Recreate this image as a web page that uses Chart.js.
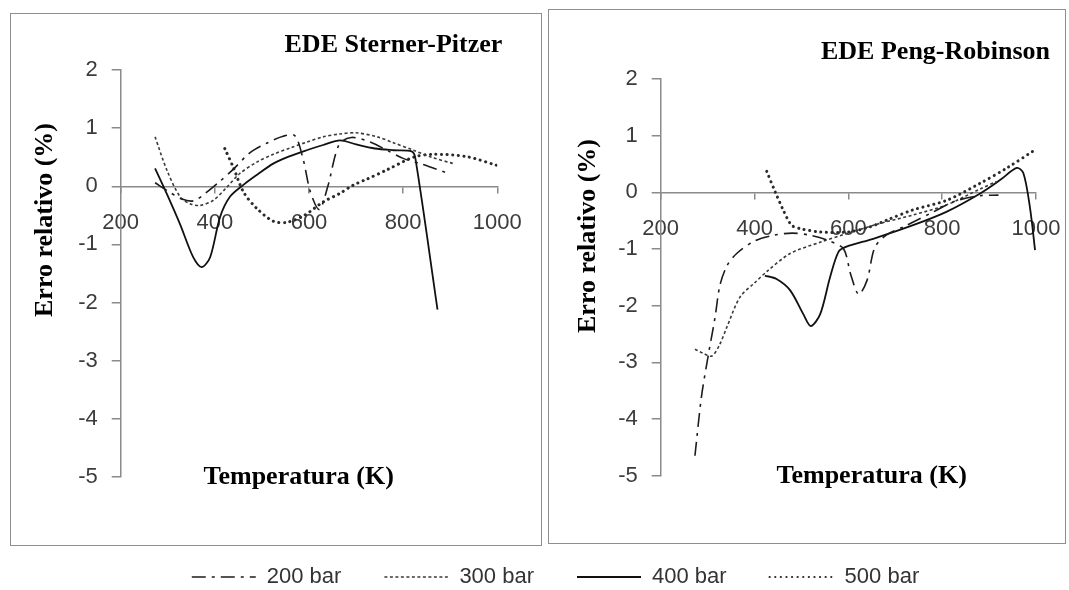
<!DOCTYPE html>
<html>
<head>
<meta charset="utf-8">
<script src="https://cdn.jsdelivr.net/npm/chart.js@4.4.1/dist/chart.umd.min.js"></script>
<style>
  html, body { margin: 0; padding: 0; background: #fff; overflow: hidden; }
  body { width: 1069px; height: 590px; position: relative; }
  .frame { position: absolute; box-sizing: border-box; border: 1.5px solid #8e8e8e; }
  canvas { position: absolute; }
</style>
</head>
<body>
<div class="frame" style="left:10px;top:13px;width:532px;height:533px"></div>
<div class="frame" style="left:548px;top:9px;width:518px;height:535px"></div>
<canvas id="chartSP" width="528" height="529" style="left:12px;top:15px"></canvas>
<canvas id="chartPR" width="530" height="531" style="left:550px;top:11px"></canvas>
<canvas id="chartLegend" width="1069" height="120" style="left:0;top:523px"></canvas>
<script>
// Sterner-Pitzer: temperatura (K) e erro relativo (%)
const spT200 = [273, 300, 330, 355, 380, 410, 440, 475, 510, 545, 570, 588, 603, 622, 640, 664, 690, 730, 770, 800, 840, 890];
const spErr200 = [0.06, -0.08, -0.22, -0.25, -0.12, 0.08, 0.3, 0.58, 0.74, 0.86, 0.87, 0.45, -0.1, -0.4, 0.0, 0.72, 0.84, 0.76, 0.6, 0.48, 0.38, 0.24];
const spT300 = [273, 298, 326, 347, 368, 397, 425, 453, 490, 524, 560, 595, 630, 666, 700, 745, 779, 822, 860, 907];
const spErr300 = [0.85, 0.28, -0.18, -0.3, -0.33, -0.24, -0.02, 0.22, 0.42, 0.55, 0.66, 0.76, 0.85, 0.9, 0.92, 0.85, 0.75, 0.62, 0.5, 0.39];
const spT400 = [273, 298, 326, 354, 372, 390, 411, 432, 460, 490, 524, 560, 595, 630, 666, 700, 740, 780, 818, 826, 873];
const spErr400 = [0.31, -0.13, -0.65, -1.22, -1.39, -1.22, -0.53, -0.18, 0.02, 0.2, 0.39, 0.52, 0.62, 0.71, 0.79, 0.72, 0.65, 0.62, 0.6, 0.48, -2.12];
const spT500 = [421, 439, 461, 489, 524, 553, 590, 630, 666, 694, 722, 765, 822, 864, 935, 999];
const spErr500 = [0.65, 0.33, -0.1, -0.38, -0.6, -0.62, -0.5, -0.27, -0.12, 0.02, 0.12, 0.28, 0.5, 0.55, 0.51, 0.36];

// Peng-Robinson
const prT200 = [273, 287, 302, 316, 326, 341, 362, 400, 440, 480, 520, 560, 590, 605, 622, 640, 656, 680, 720, 780, 830, 880, 920];
const prErr200 = [-4.65, -3.6, -2.85, -2.2, -1.65, -1.3, -1.08, -0.86, -0.76, -0.72, -0.76, -0.86, -1.0, -1.45, -1.8, -1.55, -0.98, -0.76, -0.6, -0.35, -0.15, -0.06, -0.05];
const prT300 = [273, 290, 309, 325, 341, 369, 400, 426, 476, 540, 596, 667, 738, 810, 881, 916];
const prErr300 = [-2.77, -2.84, -2.89, -2.7, -2.38, -1.85, -1.6, -1.4, -1.08, -0.88, -0.73, -0.55, -0.4, -0.22, 0.06, 0.19];
const prT400 = [422, 447, 476, 504, 520, 540, 561, 579, 596, 653, 738, 810, 881, 924, 959, 973, 987, 998];
const prErr400 = [-1.47, -1.53, -1.73, -2.15, -2.36, -2.15, -1.5, -1.05, -0.96, -0.82, -0.58, -0.34, -0.02, 0.22, 0.43, 0.34, -0.26, -1.02];
const prT500 = [426, 444, 461, 479, 497, 540, 600, 646, 682, 738, 810, 881, 938, 998];
const prErr500 = [0.37, 0.01, -0.31, -0.58, -0.64, -0.7, -0.7, -0.61, -0.49, -0.31, -0.14, 0.16, 0.43, 0.75];

const seriesNames = ['200 bar', '300 bar', '400 bar', '500 bar'];
const xTicks = [200, 400, 600, 800, 1000];
const yTicks = [2, 1, 0, -1, -2, -3, -4, -5];

const lineStyles = [
  { borderColor: '#1c1c1c', borderWidth: 1.6, borderDash: [14, 6, 3, 6], borderCapStyle: 'butt' },
  { borderColor: '#3a3a3a', borderWidth: 1.6, borderDash: [3, 2.5], borderCapStyle: 'butt' },
  { borderColor: '#111', borderWidth: 1.8, borderDash: [], borderCapStyle: 'butt' },
  { borderColor: '#2a2a2a', borderWidth: 3, borderDash: [0.1, 5.5], borderCapStyle: 'round' }
];

const axisColor = '#8a8a8a';
const tickFont = { family: '"Liberation Sans", Arial, sans-serif', size: 22 };
const serifBold = 'bold 26px "Liberation Serif", "Times New Roman", serif';

function toPoints(ts, vs) {
  return ts.map((t, i) => ({ x: t, y: vs[i] }));
}

// titles of each panel, placed relative to the plot area
const panelText = {
  id: 'panelText',
  beforeDatasetsDraw(chart, args, o) {
    const { ctx, chartArea: a } = chart;
    ctx.save();
    ctx.fillStyle = '#000';
    ctx.font = serifBold;
    ctx.textBaseline = 'middle';
    ctx.textAlign = 'right';
    ctx.fillText(o.title, a.right + o.titleDx, a.top + o.titleDy);
    ctx.textAlign = 'center';
    ctx.fillText(o.xTitle, a.left + o.xTitleDx, a.bottom + o.xTitleDy);
    ctx.translate(a.left + o.yTitleDx, a.top + o.yTitleDy);
    ctx.rotate(-Math.PI / 2);
    ctx.fillText(o.yTitle, 0, 0);
    ctx.restore();
  }
};

function makePanel(id, series, text, pad) {
  return new Chart(document.getElementById(id), {
    type: 'line',
    data: {
      datasets: series.map((pts, i) => Object.assign({
        label: seriesNames[i],
        data: pts,
        pointRadius: 0,
        tension: 0.3,
        fill: false
      }, lineStyles[i]))
    },
    options: {
      responsive: false,
      animation: false,
      layout: { padding: { left: 0, top: pad.top, right: pad.right, bottom: pad.bottom } },
      plugins: { legend: { display: false }, tooltip: { enabled: false }, panelText: text },
      scales: {
        x: {
          type: 'linear', min: 200, max: 1000, position: { y: 0 },
          afterBuildTicks: s => { s.ticks = xTicks.map(v => ({ value: v })); },
          ticks: { color: '#3c3c3c', font: tickFont, padding: 17, maxRotation: 0, callback: v => String(v) },
          grid: { drawOnChartArea: false, tickLength: 6, color: axisColor, lineWidth: 1.5 },
          border: { color: axisColor, width: 1.5 }
        },
        y: {
          type: 'linear', min: -5, max: 2, position: 'left',
          afterBuildTicks: s => { s.ticks = yTicks.map(v => ({ value: v })); },
          afterFit: s => { s.width = pad.left; },
          ticks: { color: '#3c3c3c', font: tickFont, padding: 14, callback: v => String(v) },
          grid: { drawOnChartArea: false, tickLength: 9, color: axisColor, lineWidth: 1.5 },
          border: { color: axisColor, width: 1.5 }
        }
      }
    },
    plugins: [panelText]
  });
}

makePanel('chartSP',
  [toPoints(spT200, spErr200), toPoints(spT300, spErr300), toPoints(spT400, spErr400), toPoints(spT500, spErr500)],
  { title: 'EDE Sterner-Pitzer', titleDx: 5, titleDy: -25,
    xTitle: 'Temperatura (K)', xTitleDx: 178, xTitleDy: 0,
    yTitle: 'Erro relativo (%)', yTitleDx: -75, yTitleDy: 150 },
  { left: 108.7, top: 55, right: 42.7, bottom: 67 });

makePanel('chartPR',
  [toPoints(prT200, prErr200), toPoints(prT300, prErr300), toPoints(prT400, prErr400), toPoints(prT500, prErr500)],
  { title: 'EDE Peng-Robinson', titleDx: 14, titleDy: -27,
    xTitle: 'Temperatura (K)', xTitleDx: 211, xTitleDy: 1,
    yTitle: 'Erro relativo (%)', yTitleDx: -72, yTitleDy: 157 },
  { left: 110.7, top: 68, right: 44, bottom: 66.4 });

// shared legend under both panels
new Chart(document.getElementById('chartLegend'), {
  type: 'line',
  data: {
    datasets: seriesNames.map((name, i) => Object.assign({ label: name, data: [] }, lineStyles[i]))
  },
  options: {
    responsive: false,
    animation: false,
    layout: { padding: { left: 42, top: 0 } },
    scales: { x: { display: false }, y: { display: false } },
    plugins: {
      tooltip: { enabled: false },
      legend: {
        position: 'top',
        onClick: null,
        labels: {
          usePointStyle: true,
          pointStyleWidth: 64,
          padding: 43,
          color: '#333',
          font: { family: '"Liberation Sans", Arial, sans-serif', size: 22 },
          generateLabels: () => seriesNames.map((name, i) => ({
            text: name,
            datasetIndex: i,
            hidden: false,
            pointStyle: 'line',
            fillStyle: lineStyles[i].borderColor,
            strokeStyle: lineStyles[i].borderColor,
            lineWidth: i === 3 ? 2.2 : lineStyles[i].borderWidth,
            lineDash: lineStyles[i].borderDash,
            lineCap: lineStyles[i].borderCapStyle,
            fontColor: '#333'
          }))
        }
      }
    }
  }
});
</script>
</body>
</html>
